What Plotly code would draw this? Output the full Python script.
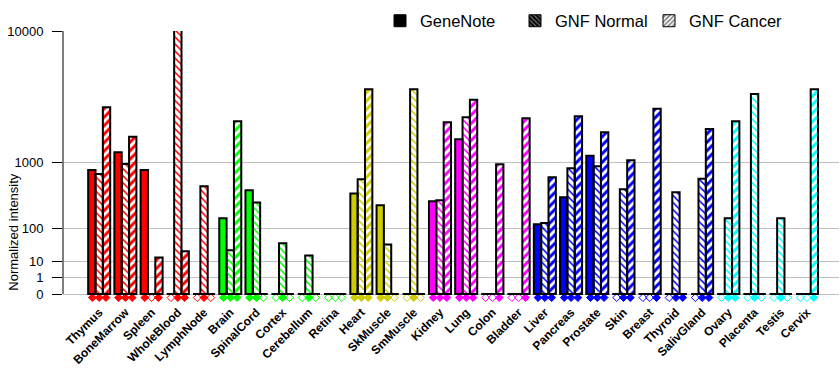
import numpy as np
import plotly.graph_objects as go

# ---------------- data ----------------
tissues = ["Thymus", "BoneMarrow", "Spleen", "WholeBlood", "LymphNode", "Brain", "SpinalCord",
           "Cortex", "Cerebellum", "Retina", "Heart", "SkMuscle", "SmMuscle", "Kidney", "Lung",
           "Colon", "Bladder", "Liver", "Pancreas", "Prostate", "Skin", "Breast", "Thyroid",
           "SalivGland", "Ovary", "Placenta", "Testis", "Cervix"]

tissue_group = [0, 0, 0, 0, 0, 1, 1, 1, 1, 1, 2, 2, 2, 3, 3, 3, 3, 4, 4, 4, 4, 4, 4, 4, 5, 5, 5, 5]
group_colors = ["#FF0000", "#00FF00", "#CCCC00", "#FF00FF", "#0000FF", "#00FFFF"]

genenote = [825, 1280, 825, 0, 0, 160, 455, 0, 0, 0, 410, 270, 0, 313, 1720,
            0, 0, 121, 360, 1180, 0, 0, 0, 0, 0, 0, 0, 0]
gnf_normal = [740, 965, 0, 10700, 515, 26, 300, 42, 17, 0, 635, 39, 4350, 324, 2670,
              0, 0, 129, 861, 908, 469, 0, 427, 643, 160, 4020, 160, 0]
gnf_cancer = [3200, 1810, 14, 24, 0, 2480, 0, 0, 0, 0, 4350, 0, 0, 2430, 3650,
              957, 2620, 673, 2720, 1990, 1057, 3120, 0, 2130, 2480, 0, 0, 4350]

# present (filled diamond) / absent (open diamond) calls
genenote_call = [1, 1, 1, 0, 0, 1, 1, 0, 0, 0, 1, 1, 0, 1, 1, 0, 0, 1, 1, 1, 0, 0, 0, 0, 0, 0, 0, 0]
normal_call = [1, 1, 0, 1, 1, 1, 1, 1, 1, 0, 1, 1, 1, 1, 1, 0, 0, 1, 1, 1, 1, 0, 1, 1, 1, 1, 1, 0]
cancer_call = [1, 1, 1, 1, 0, 1, 0, 0, 0, 0, 1, 0, 0, 1, 1, 1, 1, 1, 1, 1, 1, 1, 1, 1, 1, 0, 0, 1]

tick_values = [0, 1, 10, 100, 1000, 10000]
tick_labels = ["0", "1", "10", "100", "1000", "10000"]

series_names = ["GeneNote", "GNF Normal", "GNF Cancer"]

# ---------------- scale (power scale: each decade = doubling) ----------------
EXP = np.log10(2)


def scale(v):
    v = np.asarray(v, dtype=float)
    return np.where(v > 0, np.power(np.clip(v, 1e-12, None), EXP), 0.0)


x = np.arange(len(tissues))
colors = [group_colors[g] for g in tissue_group]
FONT = "Liberation Sans, Arial, sans-serif"

Y0, Y1 = -0.426, 16.0      # y range (diamonds sit just below 0)
PLOT_TOP, PLOT_H = 31, 270

fig = go.Figure()

patterns = [
    dict(shape=""),
    dict(shape="\\", fgcolor="white", bgcolor=colors, size=5, solidity=0.3, fillmode="replace"),
    dict(shape="/", fgcolor=colors, bgcolor="white", size=6, solidity=0.5, fillmode="replace"),
]
legend_patterns = [
    dict(shape=""),
    dict(shape="\\", fgcolor="white", bgcolor="black", size=4, solidity=0.35),
    dict(shape="/", fgcolor="black", bgcolor="white", size=4, solidity=0.5),
]
legend_ids = ["legend", "legend2", "legend3"]
legend_text_x = [417, 552, 686]

for k, (name, vals) in enumerate(zip(series_names, [genenote, gnf_normal, gnf_cancer])):
    fig.add_trace(go.Bar(
        x=x, y=scale(vals), name=name, showlegend=False, offsetgroup=str(k),
        marker=dict(color=colors, line=dict(color="black", width=2), pattern=patterns[k]),
        cliponaxis=False, hoverinfo="skip"))
    # legend-only swatch (black)
    fig.add_trace(go.Bar(
        x=[None], y=[None], name=name, showlegend=True, offsetgroup=str(k), legend=legend_ids[k],
        marker=dict(color="black", line=dict(color="black", width=1), pattern=legend_patterns[k])))

# present/absent diamonds under each bar
offsets = [-0.26, 0.0, 0.26]
for k, calls in enumerate([genenote_call, normal_call, cancer_call]):
    fig.add_trace(go.Scatter(
        x=x + offsets[k], y=[-0.22] * len(x), mode="markers", showlegend=False,
        cliponaxis=False, hoverinfo="skip",
        marker=dict(symbol=["diamond" if c else "diamond-open" for c in calls],
                    size=6, color=colors, line=dict(color=colors, width=1))))

# black base segments under each group
for i in x:
    fig.add_shape(type="line", xref="x", yref="y", x0=i - 0.42, x1=i + 0.42, y0=0, y1=0,
                  line=dict(color="black", width=2), layer="above")

# y axis line (from 0 to top)
fig.add_shape(type="line", xref="paper", yref="y", x0=0, x1=0, y0=0, y1=Y1,
              line=dict(color="black", width=1), layer="above")

fig.add_annotation(text="Normalized intensity", textangle=-90, xref="paper", yref="paper",
                   x=(14 - 63) / 776, y=(PLOT_TOP + PLOT_H - 231.7) / PLOT_H,
                   xanchor="center", yanchor="middle",
                   showarrow=False, font=dict(family=FONT, size=13, color="black"))

leg_y = 1 + (PLOT_TOP - 3.5) / PLOT_H
legend_common = dict(orientation="h", xanchor="left", y=leg_y, yanchor="top",
                     font=dict(family=FONT, size=16.5, color="black"),
                     bgcolor="rgba(0,0,0,0)", itemclick=False, itemdoubleclick=False)

fig.update_layout(
    width=840, height=385,
    margin=dict(l=63, r=1, t=PLOT_TOP, b=385 - PLOT_TOP - PLOT_H, autoexpand=False),
    paper_bgcolor="white", plot_bgcolor="white",
    barmode="group", bargap=0.16, bargroupgap=0,
    showlegend=True,
    legend=dict(x=(legend_text_x[0] - 37 - 63) / 776, **legend_common),
    legend2=dict(x=(legend_text_x[1] - 37 - 63) / 776, **legend_common),
    legend3=dict(x=(legend_text_x[2] - 37 - 63) / 776, **legend_common),
    xaxis=dict(range=[-1.38, 28.22], tickmode="array", tickvals=list(x), ticktext=tissues,
               tickangle=-45, showgrid=False, zeroline=False, showline=False, ticks="",
               automargin=False, ticklabelstandoff=1,
               tickfont=dict(family=FONT, size=12, color="black", weight="bold")),
    yaxis=dict(range=[Y0, Y1], tickmode="array", tickvals=list(scale(tick_values)), ticktext=tick_labels,
               showgrid=True, gridcolor="#C0C0C0", gridwidth=1, zeroline=False,
               showline=False, automargin=False,
               ticks="outside", ticklen=10, tickcolor="black", tickwidth=1, ticklabelstandoff=6,
               tickfont=dict(family=FONT, size=13, color="black")),
    font=dict(family=FONT, color="black"),
)

fig.write_html("out.html", config={"displayModeBar": False},
               post_script="document.body.style.margin='0px';")
